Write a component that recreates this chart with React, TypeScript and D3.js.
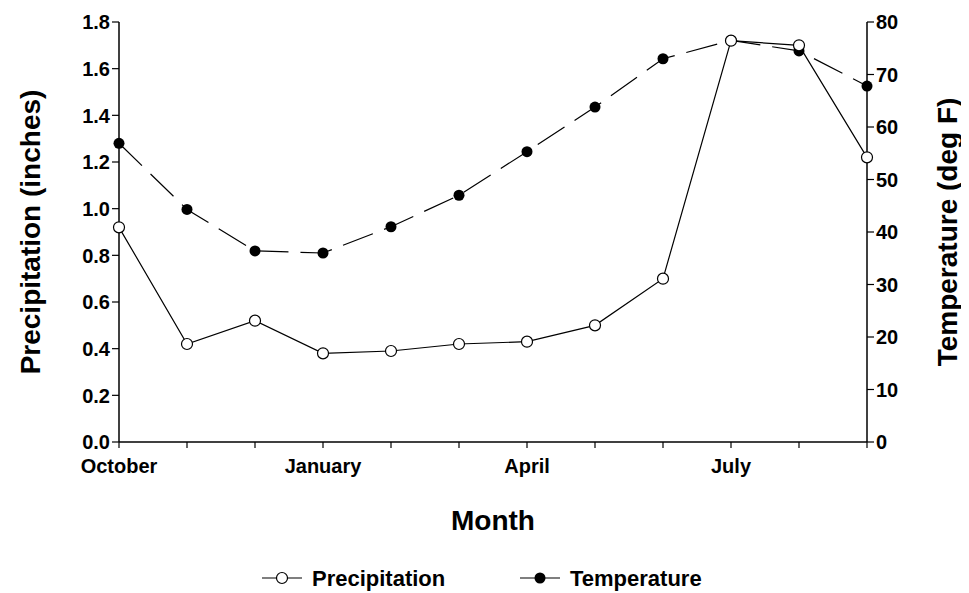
import * as d3 from "d3";

const months = ["October", "November", "December", "January", "February", "March", "April", "May", "June", "July", "August", "September"];
const labeledMonths = ["October", "January", "April", "July"];
const precipitation = [0.92, 0.42, 0.52, 0.38, 0.39, 0.42, 0.43, 0.5, 0.7, 1.72, 1.7, 1.22];
const temperature = [56.9, 44.3, 36.4, 36.0, 41.0, 47.0, 55.3, 63.8, 73.0, 76.5, 74.5, 67.8];
const precipTicks = [0, 0.2, 0.4, 0.6, 0.8, 1.0, 1.2, 1.4, 1.6, 1.8];
const tempTicks = [0, 10, 20, 30, 40, 50, 60, 70, 80];

const font = "'Liberation Sans', Arial, sans-serif";

export default function App() {
  const left = 119, right = 867, top = 22, bottom = 442;
  const x = d3.scaleLinear().domain([0, months.length - 1]).range([left, right]);
  const yP = d3.scaleLinear().domain([0, 1.8]).range([bottom, top]);
  const yT = d3.scaleLinear().domain([0, 80]).range([bottom, top]);
  const lineP = d3.line<number>().x((_, i) => x(i)).y((d) => yP(d));
  const lineT = d3.line<number>().x((_, i) => x(i)).y((d) => yT(d));

  return (
    <svg width={961} height={585} style={{ display: "block", fontFamily: font, fontWeight: "bold" }}>
      <g transform="translate(-8,-8)">
        <line x1={left} x2={right} y1={bottom} y2={bottom} stroke="#000" strokeWidth={1.5} />
        <line x1={left} x2={left} y1={top} y2={bottom} stroke="#000" strokeWidth={1.5} />
        <line x1={right} x2={right} y1={top} y2={bottom} stroke="#000" strokeWidth={1.5} />
        {precipTicks.map((t) => (
          <g key={t}>
            <line x1={left - 7} x2={left} y1={yP(t)} y2={yP(t)} stroke="#000" strokeWidth={1.2} />
            <text x={left - 9} y={yP(t)} dy="0.36em" textAnchor="end" fontSize={20}>{t.toFixed(1)}</text>
          </g>
        ))}
        {tempTicks.map((t) => (
          <g key={t}>
            <line x1={right} x2={right + 7} y1={yT(t)} y2={yT(t)} stroke="#000" strokeWidth={1.2} />
            <text x={right + 9} y={yT(t)} dy="0.36em" textAnchor="start" fontSize={20}>{t}</text>
          </g>
        ))}
        {months.map((m, i) => (
          <g key={m}>
            <line x1={x(i)} x2={x(i)} y1={bottom} y2={bottom + 6} stroke="#000" strokeWidth={1.2} />
            {labeledMonths.includes(m) && (
              <text x={x(i)} y={bottom + 31} textAnchor="middle" fontSize={20}>{m}</text>
            )}
          </g>
        ))}
        <text x={(left + right) / 2} y={530} textAnchor="middle" fontSize={28}>Month</text>
        <text transform={`translate(40,${(top + bottom) / 2}) rotate(-90)`} textAnchor="middle" fontSize={28}>Precipitation (inches)</text>
        <text transform={`translate(957,${(top + bottom) / 2}) rotate(-90)`} textAnchor="middle" fontSize={28}>Temperature (deg F)</text>

        <path d={lineT(temperature) ?? ""} fill="none" stroke="#000" strokeWidth={1.2} strokeDasharray="32,12" />
        <path d={lineP(precipitation) ?? ""} fill="none" stroke="#000" strokeWidth={1.2} />
        {temperature.map((d, i) => (
          <circle key={"t" + i} cx={x(i)} cy={yT(d)} r={5.5} fill="#000" />
        ))}
        {precipitation.map((d, i) => (
          <circle key={"p" + i} cx={x(i)} cy={yP(d)} r={5.5} fill="#fff" stroke="#000" strokeWidth={1.2} />
        ))}

        <g transform="translate(262,578)">
          <line x1={0} x2={40} y1={0} y2={0} stroke="#000" strokeWidth={1.2} />
          <circle cx={20} cy={0} r={5.5} fill="#fff" stroke="#000" strokeWidth={1.2} />
          <text x={50} y={0} dy="0.36em" fontSize={22}>Precipitation</text>
          <line x1={258} x2={298} y1={0} y2={0} stroke="#000" strokeWidth={1.2} />
          <circle cx={278} cy={0} r={5.5} fill="#000" />
          <text x={308} y={0} dy="0.36em" fontSize={22}>Temperature</text>
        </g>
      </g>
    </svg>
  );
}
